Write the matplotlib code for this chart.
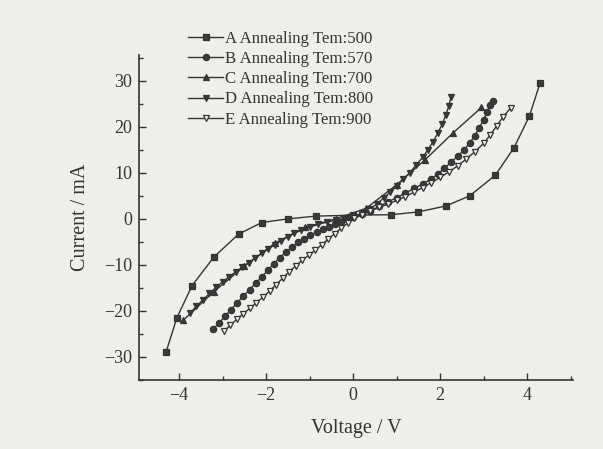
import numpy as np
import matplotlib
matplotlib.use("Agg")
import matplotlib.pyplot as plt
from matplotlib.ticker import MultipleLocator

plt.rcParams['font.family'] = ['Liberation Serif', 'DejaVu Serif']
plt.rcParams['axes.unicode_minus'] = True

# I-V curves
labels = ['A Annealing Tem:500', 'B Annealing Tem:570', 'C Annealing Tem:700',
          'D Annealing Tem:800', 'E Annealing Tem:900']

a_v = [-4.3, -4.05, -3.7, -3.2, -2.63, -2.1, -1.5, -0.85, 0.0, 0.87, 1.49, 2.13, 2.68, 3.27, 3.7, 4.05, 4.3]
a_i = [-29, -21.5, -14.5, -8.3, -3.3, -0.8, 0.0, 0.6, 0.8, 0.9, 1.5, 2.8, 5.0, 9.5, 15.5, 22.3, 29.6]

b_v = [-3.22, -3.08, -2.94, -2.8, -2.66, -2.52, -2.38, -2.24, -2.1, -1.96, -1.82, -1.68, -1.54, -1.4,
       -1.26, -1.12, -0.98, -0.84, -0.7, -0.56, -0.42, -0.28, -0.14, 0.0,
       0.2, 0.4, 0.6, 0.8, 1.0, 1.2, 1.4, 1.6, 1.8, 1.95, 2.1, 2.25, 2.4, 2.55, 2.68, 2.8, 2.9,
       3.0, 3.08, 3.15, 3.22]
b_i = [-24, -22.6, -21.1, -19.7, -18.2, -16.8, -15.4, -14, -12.6, -11.2, -9.7, -8.4, -7.2, -6.1,
       -5.1, -4.3, -3.6, -2.9, -2.3, -1.7, -1.1, -0.6, -0.1, 0.3,
       1.0, 1.8, 2.7, 3.7, 4.6, 5.6, 6.6, 7.6, 8.7, 9.8, 11, 12.3, 13.6, 15, 16.5, 18.1, 19.8,
       21.5, 23.2, 24.7, 25.5]

c_v = [-3.9, -3.2, -2.5, -1.8, -1.1, -0.4, 0.3, 1.0, 1.65, 2.3, 2.95]
c_i = [-22, -15.8, -10.3, -5.3, -1.8, 0.0, 2.3, 7.4, 12.8, 18.7, 24.2]

d_v = [-3.75, -3.6, -3.45, -3.3, -3.15, -3.0, -2.85, -2.7, -2.55, -2.4, -2.25, -2.1, -1.95, -1.8,
       -1.65, -1.5, -1.35, -1.2, -1.0, -0.8, -0.6, -0.4, -0.2, 0.0,
       0.2, 0.4, 0.55, 0.7, 0.85, 1.0, 1.15, 1.3, 1.45, 1.6, 1.72, 1.84, 1.95, 2.05, 2.13, 2.2, 2.25]
d_i = [-20.5, -19, -17.6, -16.2, -14.9, -13.7, -12.6, -11.5, -10.5, -9.5, -8.5, -7.5, -6.5, -5.6,
       -4.7, -3.9, -3.1, -2.5, -1.8, -1.2, -0.7, -0.3, 0.1, 0.5,
       1.2, 2.2, 3.3, 4.5, 5.8, 7.2, 8.6, 10, 11.7, 13.4, 15, 16.8, 18.7, 20.6, 22.6, 24.5, 26.5]

e_v = [-2.97, -2.82, -2.67, -2.52, -2.37, -2.22, -2.07, -1.92, -1.77, -1.62, -1.47, -1.32, -1.17,
       -1.02, -0.87, -0.72, -0.57, -0.42, -0.27, -0.12, 0.03,
       0.2, 0.4, 0.6, 0.8, 1.0, 1.2, 1.4, 1.6, 1.8, 2.0, 2.2, 2.4, 2.6, 2.8, 3.0, 3.15, 3.3, 3.45, 3.62]
e_i = [-24.4, -23.1, -21.8, -20.6, -19.4, -18.2, -17.0, -15.7, -14.3, -12.9, -11.5, -10.2, -9.0,
       -7.9, -6.8, -5.6, -4.4, -3.2, -2.0, -0.9, 0.1,
       0.9, 1.7, 2.5, 3.2, 4.0, 4.8, 5.8, 6.8, 7.9, 9.0, 10.2, 11.5, 13.0, 14.6, 16.4, 18.2, 20.2, 22.2, 24.1]

series = [(a_v, a_i), (b_v, b_i), (c_v, c_i), (d_v, d_i), (e_v, e_i)]
markers = ['s', 'o', '^', 'v', 'v']
faces = ['#3a3a3a', '#3a3a3a', '#3a3a3a', '#3a3a3a', '#f4f3f0']

ink = '#333333'
bg = '#efeeeb'

fig = plt.figure(figsize=(6.03, 4.49), dpi=100, facecolor=bg)
ax = fig.add_axes([0.2305, 0.1537, 0.7195, 0.7238])
ax.set_facecolor(bg)

for (v, i), m, fc, lab in zip(series, markers, faces, labels):
    ax.plot(v, i, color=ink, lw=1.0, marker=m, ms=4.5, mfc=fc, mec=ink, mew=0.9, label=lab)

ax.set_xlim(-4.92, 5.05)
ax.set_ylim(-35, 35.6)
ax.xaxis.set_major_locator(MultipleLocator(2))
ax.xaxis.set_minor_locator(MultipleLocator(1))
ax.yaxis.set_major_locator(MultipleLocator(10))
ax.yaxis.set_minor_locator(MultipleLocator(5))
ax.tick_params(which='both', direction='in', colors=ink, labelsize=13, width=1)
ax.tick_params(which='major', length=5, pad=5)
ax.tick_params(which='minor', length=3)
for s in ['top', 'right']:
    ax.spines[s].set_visible(False)
for s in ['left', 'bottom']:
    ax.spines[s].set_color(ink)
    ax.spines[s].set_linewidth(1.2)

ax.set_xlabel('Voltage / V', fontsize=14.5, color=ink, labelpad=11)
ax.set_ylabel('Current / mA', fontsize=14.5, color=ink, labelpad=10)

fig.legend(loc='upper left', bbox_to_anchor=(0.298, 0.95), frameon=False, fontsize=12.1,
           handlelength=2.1, handletextpad=0.1, labelspacing=0.25, borderpad=0,
           labelcolor=ink)

fig.savefig('out.png', dpi=100, facecolor=bg)
